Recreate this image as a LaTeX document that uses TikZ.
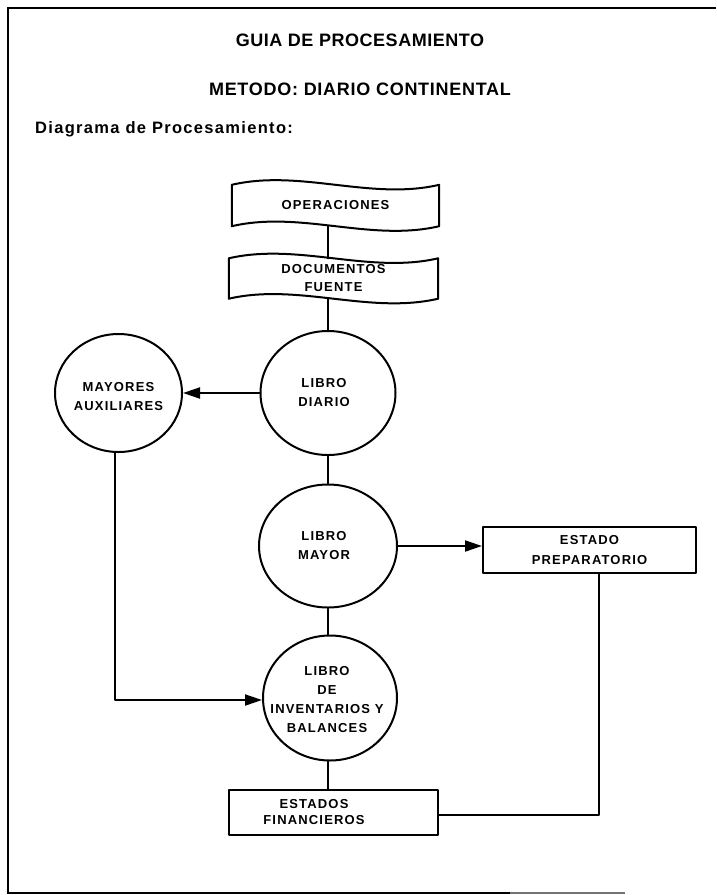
\documentclass[tikz,border=0pt]{standalone}
\usepackage{fontspec}
\setmainfont{Liberation Sans}
\usetikzlibrary{shapes.geometric,arrows.meta,calc}
\tikzset{
  ln/.style={line width=2pt, line cap=round, line join=round},
  arr/.style={ln, -{Triangle[length=17pt,width=11pt]}},
  nodetxt/.style={font=\fontsize{13}{19}\selectfont\bfseries\addfontfeature{LetterSpace=9}, align=center},
  circnode/.style={ellipse, draw, ln, inner sep=0pt},
  boxnode/.style={rectangle, draw, ln, inner sep=0pt, nodetxt},
  tapenode/.style={rectangle, inner sep=0pt, nodetxt},
}
\newcommand\wavyoutline[1]{%
  \draw[ln] (#1.north west)
    .. controls ($(#1.north west)!0.33!(#1.north east)+(0,-16)$) and ($(#1.north west)!0.67!(#1.north east)+(0,16)$) .. (#1.north east)
    -- (#1.south east)
    .. controls ($(#1.south west)!0.67!(#1.south east)+(0,16)$) and ($(#1.south west)!0.33!(#1.south east)+(0,-16)$) .. (#1.south west)
    -- cycle;}
\begin{document}
\begin{tikzpicture}[x=1pt,y=-1pt]
\useasboundingbox (0,0) rectangle (716,895);
% frame
\draw[line width=1.8pt] (716,8) -- (8,8) -- (8,893) -- (510,893);
\draw[line width=1.2pt, black!55] (510,893) -- (625,893);
% headings
\node[anchor=base, font=\fontsize{18}{20}\selectfont\bfseries\addfontfeature{LetterSpace=3}] (t1) at (360,46) {GUIA DE PROCESAMIENTO};
\node[anchor=base, font=\fontsize{18}{20}\selectfont\bfseries\addfontfeature{LetterSpace=4}] (t2) at (360,95) {METODO: DIARIO CONTINENTAL};
\node[anchor=base west, inner sep=0pt, font=\fontsize{16.5}{20}\selectfont\bfseries\addfontfeature{LetterSpace=8}] (t3) at (35,133) {Diagrama de Procesamiento:};
% nodes
\node[tapenode, minimum width=207pt, minimum height=41pt] (op) at (335.5,205.5) {OPERACIONES};
\wavyoutline{op}
\node[tapenode, minimum width=209pt, minimum height=40pt, font=\fontsize{13}{18}\selectfont\bfseries\addfontfeature{LetterSpace=9}] (doc) at (333.5,278.5) {DOCUMENTOS\\FUENTE};
\wavyoutline{doc}
\node[circnode, minimum width=135pt, minimum height=124pt] (diario) at (328,393) {};
\node[nodetxt] (diariotext) at (324,393) {LIBRO\\DIARIO};
\node[circnode, minimum width=127pt, minimum height=118pt] (mayores) at (118.5,393) {};
\node[nodetxt] (mayorestext) at (118.5,397) {MAYORES\\AUXILIARES};
\node[circnode, minimum width=138pt, minimum height=123pt] (mayor) at (328,546) {};
\node[nodetxt] (mayortext) at (324,546) {LIBRO\\MAYOR};
\node[circnode, minimum width=134pt, minimum height=125pt] (inv) at (330,698) {};
\node[nodetxt] (invtext) at (327,700) {LIBRO\\DE\\INVENTARIOS Y\\BALANCES};
\node[boxnode, minimum width=213pt, minimum height=46pt, font=\fontsize{13}{20}\selectfont\bfseries\addfontfeature{LetterSpace=9}] (prep) at (589.5,550) {ESTADO\\PREPARATORIO};
\node[boxnode, minimum width=209pt, minimum height=45pt] (ef) at (333.5,812.5) {};
\node[nodetxt, inner sep=0pt, font=\fontsize{13}{16.5}\selectfont\bfseries\addfontfeature{LetterSpace=9}] (eftext) at (314,812) {ESTADOS\\FINANCIEROS};
% connectors
\draw[ln] (op.south -| diario) -- (doc.north -| diario);
\draw[ln] (doc.south -| diario) -- (diario.north);
\draw[ln] (diario.south) -- (mayor.north);
\draw[ln] (mayor.south) -- (mayor.south |- inv.north);
\draw[ln] (inv.south -| mayor) -- (ef.north -| mayor);
\draw[arr] (diario.west) -- (diario.west -| mayores.east);
\draw[arr] (mayor.east) -- (mayor.east -| prep.west);
\coordinate (lb) at (115,700);
\draw[arr] (mayores.south -| lb) -- (lb) -- (lb -| inv.west);
\coordinate (pd) at (599,815);
\draw[ln] (prep.south -| pd) -- (pd) -- (ef.east |- pd);
\end{tikzpicture}
\end{document}
